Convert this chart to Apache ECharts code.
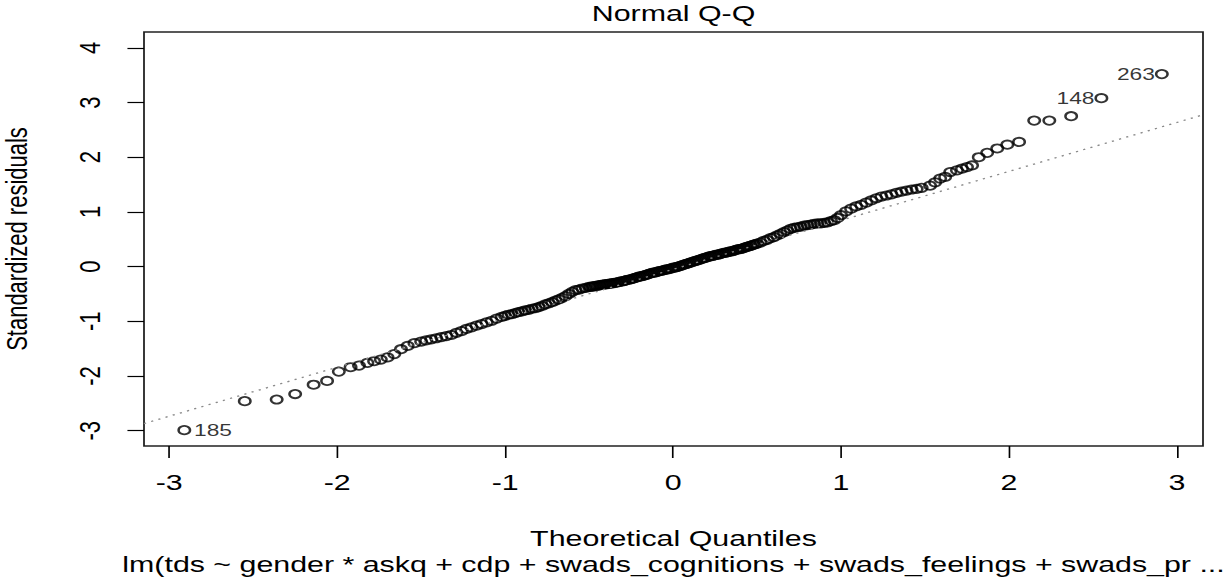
<!DOCTYPE html>
<html><head><meta charset="utf-8">
<script src="https://cdn.jsdelivr.net/npm/echarts@6/dist/echarts.min.js"></script>
<style>
html,body{margin:0;padding:0;background:#fff;overflow:hidden;width:1223px;height:581px}
#chart{width:887px;height:581px;transform:scaleX(1.38);transform-origin:0 0}
</style></head><body><div id="chart"></div>
<script>
// Theoretical quantiles (x) and sorted standardized residuals (y)
const theoQ = [
-2.91,-2.55,-2.36,-2.25,-2.14,-2.06,-1.99,-1.92,-1.87,-1.82,-1.78,-1.74,-1.70,-1.66,-1.62,-1.58,-1.54,
-1.50,-1.47,-1.44,-1.41,-1.38,-1.35,-1.32,-1.29,-1.26,-1.23,-1.20,-1.17,-1.14,-1.11,-1.08,-1.05,-1.02,
-1.00,-0.98,-0.96,-0.94,-0.92,-0.90,-0.88,-0.86,-0.84,-0.82,-0.80,-0.78,-0.76,-0.74,-0.72,-0.70,-0.68,-0.66,-0.64,-0.62,-0.60,-0.58,-0.56,-0.54,-0.52,
-0.50,-0.49,-0.48,-0.47,-0.46,-0.45,-0.44,-0.43,-0.42,-0.41,-0.40,-0.39,-0.38,-0.37,-0.36,-0.35,-0.34,-0.33,-0.32,-0.31,
-0.30,-0.29,-0.28,-0.27,-0.26,-0.25,-0.24,-0.23,-0.22,-0.21,-0.20,-0.19,-0.18,-0.17,-0.16,-0.15,-0.14,-0.13,-0.12,-0.11,
-0.10,-0.09,-0.08,-0.07,-0.06,-0.05,-0.04,-0.03,-0.02,-0.01,0.00,0.01,0.02,0.03,0.04,0.05,0.06,0.07,0.08,0.09,
0.10,0.11,0.12,0.13,0.14,0.15,0.16,0.17,0.18,0.19,0.20,0.21,0.22,0.23,0.24,0.25,0.26,0.27,0.28,0.29,
0.30,0.31,0.32,0.33,0.34,0.35,0.36,0.37,0.38,0.39,0.40,0.41,0.42,0.43,0.44,0.45,0.46,0.47,0.48,0.49,0.50,
0.52,0.54,0.56,0.58,0.60,0.62,0.64,0.66,0.68,0.70,0.72,0.74,0.76,0.78,0.80,0.82,0.84,0.86,0.88,0.90,0.92,0.94,0.96,0.98,1.00,
1.03,1.06,1.09,1.12,1.15,1.18,1.21,1.24,1.27,1.30,1.33,1.36,1.39,1.42,1.45,1.48,
1.53,1.56,1.59,1.62,1.65,1.69,1.72,1.75,1.78,1.82,1.87,1.93,1.99,2.06,2.15,2.24,2.37,2.55,2.91
];
const stdRes = [
-2.99,-2.46,-2.43,-2.33,-2.16,-2.09,-1.92,-1.84,-1.81,-1.76,-1.73,-1.70,-1.66,-1.60,-1.51,-1.45,-1.40,
-1.37,-1.35,-1.33,-1.31,-1.29,-1.27,-1.25,-1.21,-1.18,-1.14,-1.11,-1.08,-1.05,-1.02,-0.99,-0.95,-0.92,
-0.90,-0.88,-0.87,-0.85,-0.83,-0.82,-0.80,-0.79,-0.77,-0.76,-0.74,-0.72,-0.69,-0.67,-0.65,-0.62,-0.60,-0.57,-0.54,-0.50,-0.46,-0.43,-0.42,-0.40,-0.39,
-0.37,-0.37,-0.36,-0.36,-0.35,-0.35,-0.34,-0.34,-0.33,-0.33,-0.32,-0.32,-0.31,-0.31,-0.30,-0.30,-0.29,-0.29,-0.28,-0.27,
-0.27,-0.26,-0.25,-0.24,-0.24,-0.23,-0.22,-0.21,-0.20,-0.19,-0.18,-0.18,-0.17,-0.16,-0.15,-0.14,-0.13,-0.12,-0.11,-0.11,
-0.10,-0.09,-0.08,-0.08,-0.07,-0.06,-0.05,-0.05,-0.04,-0.03,-0.02,-0.02,-0.01,0.00,0.01,0.02,0.03,0.04,0.05,0.06,
0.07,0.08,0.09,0.10,0.11,0.12,0.13,0.14,0.15,0.16,0.17,0.18,0.19,0.19,0.20,0.21,0.22,0.22,0.23,0.24,
0.25,0.25,0.26,0.27,0.28,0.28,0.29,0.30,0.31,0.32,0.32,0.33,0.34,0.35,0.36,0.37,0.38,0.39,0.40,0.41,0.42,
0.44,0.47,0.49,0.52,0.54,0.57,0.60,0.63,0.66,0.69,0.71,0.72,0.73,0.75,0.76,0.77,0.78,0.79,0.79,0.80,0.81,0.83,0.85,0.89,0.94,
1.01,1.06,1.10,1.13,1.17,1.21,1.25,1.28,1.30,1.32,1.35,1.37,1.39,1.41,1.42,1.44,
1.48,1.54,1.61,1.64,1.73,1.76,1.79,1.82,1.85,2.00,2.08,2.16,2.23,2.28,2.67,2.67,2.75,3.08,3.52
];
// Reference (qqline) endpoints at the plot edges
const lineX = [-3.15, 3.16];
const lineY = [-2.87, 2.78];
// Labelled observations
const labelNames = ['185', '148', '263'];
const labelX = [-2.91, 2.55, 2.91];
const labelY = [-2.99, 3.08, 3.52];
const labelSide = ['right', 'left', 'left'];
// Ticks
const xTicks = [-3, -2, -1, 0, 1, 2, 3];
const yTicks = [-3, -2, -1, 0, 1, 2, 3, 4];
// Texts
const titleText = 'Normal Q-Q';
const xName = 'Theoretical Quantiles';
const yName = 'Standardized residuals';
const subCaption = 'lm(tds ~ gender * askq + cdp + swads_cognitions + swads_feelings + swads_pr ...';

const S = 1.38;            // horizontal stretch of the original picture
const FONT = "'Liberation Sans', Arial, sans-serif";
const FS = 22;
const plotL = 144 / S, plotR = 1203 / S, plotT = 32, plotB = 446;
const midX = (plotL + plotR) / 2, midY = (plotT + plotB) / 2;

const chart = echarts.init(document.getElementById('chart'), null, { renderer: 'svg' });

const pts = theoQ.map((x, i) => [x, stdRes[i]]);
const lbl = labelNames.map((n, i) => ({
  name: n, value: [labelX[i], labelY[i]],
  label: { position: labelSide[i], distance: labelSide[i] === 'right' ? 7 : 5 }
}));

function txt(text, x, y, rot) {
  return {
    type: 'text', x: x, y: y, rotation: rot || 0, silent: true,
    style: {
      text: text, fontFamily: 'Liberation Sans', fontSize: FS, fill: '#000',
      textAlign: 'center', textVerticalAlign: 'middle', align: 'center', verticalAlign: 'middle'
    }
  };
}

chart.setOption({
  animation: false,
  backgroundColor: '#fff',
  grid: {
    left: plotL, top: plotT, width: plotR - plotL, height: plotB - plotT,
    show: true, borderColor: '#222', borderWidth: 1.3, backgroundColor: 'transparent'
  },
  xAxis: {
    type: 'value', min: -3.15, max: 3.155,
    axisLine: { show: false, onZero: false }, splitLine: { show: false },
    axisTick: { show: true, inside: false, length: 12, customValues: xTicks, lineStyle: { color: '#000', width: 1.2 } },
    axisLabel: { customValues: xTicks, margin: 26, fontSize: FS, color: '#000', fontFamily: FONT }
  },
  yAxis: {
    type: 'value', min: -3.28, max: 4.29,
    axisLine: { show: false, onZero: false }, splitLine: { show: false },
    axisTick: { show: true, inside: false, length: 12, customValues: yTicks, lineStyle: { color: '#000', width: 1.2 } },
    axisLabel: { customValues: yTicks, rotate: 90, margin: 28, fontSize: FS, color: '#000', fontFamily: FONT }
  },
  graphic: [
    txt(titleText, midX, 14),
    txt(xName, midX, 539),
    txt(subCaption, midX, 565),
    txt(yName, 16.7 / S, midY, Math.PI / 2)
  ],
  series: [
    {
      type: 'scatter', data: pts, symbol: 'circle', symbolSize: 8.3,
      itemStyle: { color: 'rgba(0,0,0,0)', borderColor: '#000', borderWidth: 1.8 },
      emphasis: { disabled: true }, z: 2
    },
    {
      type: 'line', data: lineX.map((x, i) => [x, lineY[i]]), symbol: 'none',
      lineStyle: { color: '#8a8a8a', width: 1.3, type: [1.6, 4] }, z: 3, silent: true
    },
    {
      type: 'scatter', data: lbl, symbolSize: 0, z: 4, silent: true,
      label: { show: true, formatter: '{b}', fontSize: 16.5, color: '#000', fontFamily: FONT }
    }
  ]
});
</script></body></html>
